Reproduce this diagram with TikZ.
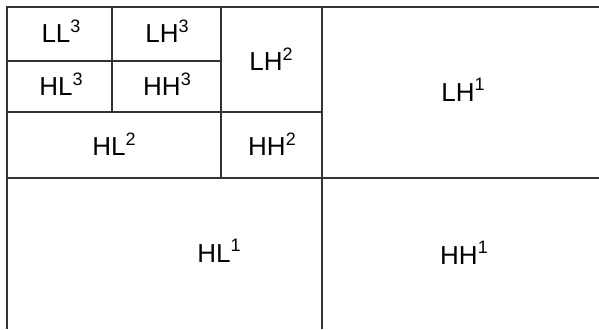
\documentclass[tikz,border=0pt]{standalone}
\usepackage{fontspec}
\setmainfont{Liberation Sans}
\definecolor{linec}{HTML}{333333}
\newcommand{\lab}[2]{#1\raisebox{10.5pt}{\fontsize{18}{18}\selectfont #2}}
\tikzset{
  grid line/.style={draw=linec, line width=1.4pt},
  lbl/.style={inner sep=0pt, font=\fontsize{26}{26}\selectfont, text=black}
}
\begin{document}
\begin{tikzpicture}[x=1pt, y=-1pt]
\useasboundingbox (0,0) rectangle (599,329);
% outer lines
\draw[grid line] (599,7) -- (7,7) -- (7,329);
\draw[grid line] (112,7) -- (112,112);
\draw[grid line] (7,61) -- (221,61);
\draw[grid line] (221,7) -- (221,178);
\draw[grid line] (7,112) -- (322,112);
\draw[grid line] (322,7) -- (322,329);
\draw[grid line] (7,178) -- (599,178);
% labels
\node[lbl] (ll3) at (61,31) {\lab{LL}{3}};
\node[lbl] (lh3) at (167,31) {\lab{LH}{3}};
\node[lbl] (hl3) at (61,84) {\lab{HL}{3}};
\node[lbl] (hh3) at (167,84) {\lab{HH}{3}};
\node[lbl] (lh2) at (271,59) {\lab{LH}{2}};
\node[lbl] (hl2) at (114,144) {\lab{HL}{2}};
\node[lbl] (hh2) at (272,144) {\lab{HH}{2}};
\node[lbl] (lh1) at (463,90) {\lab{LH}{1}};
\node[lbl] (hl1) at (219,251) {\lab{HL}{1}};
\node[lbl] (hh1) at (464,253) {\lab{HH}{1}};
\end{tikzpicture}
\end{document}
